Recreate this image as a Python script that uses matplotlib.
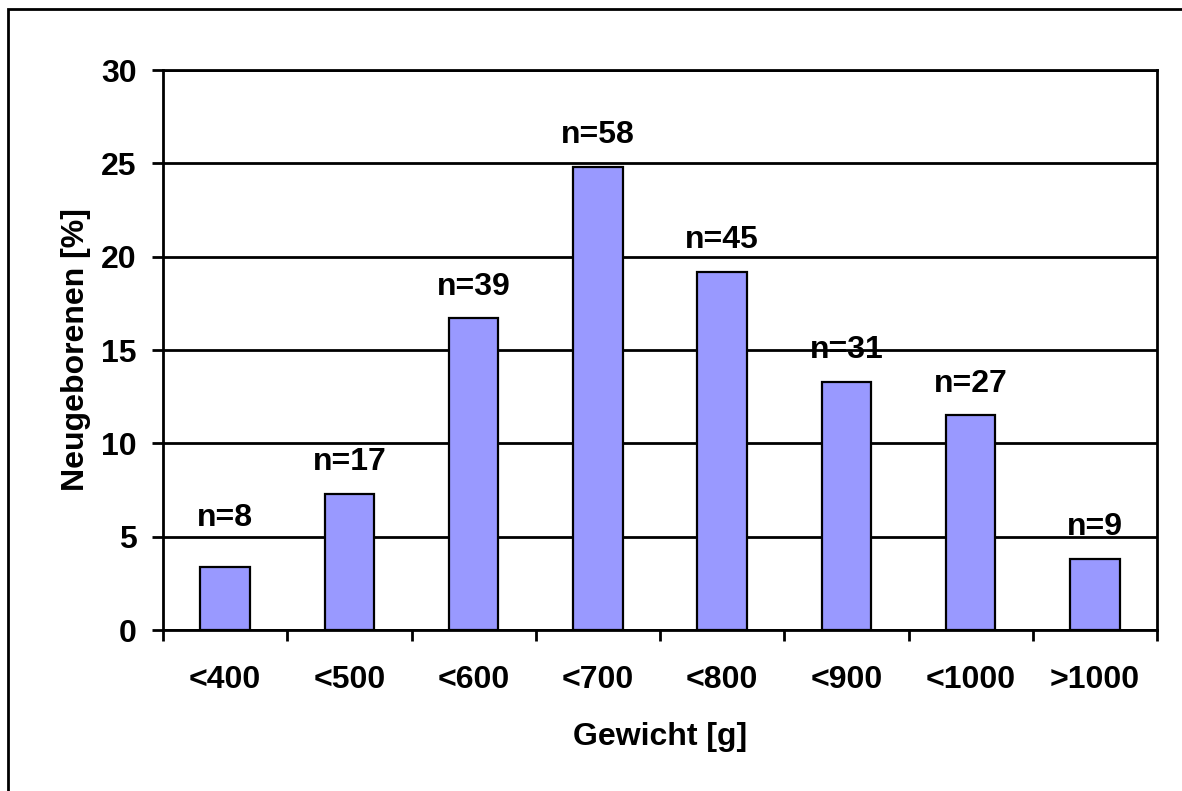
import matplotlib.pyplot as plt
from matplotlib.patches import Rectangle

# Gewichtsklassen und Anteil der Neugeborenen
klassen = ["<400", "<500", "<600", "<700", "<800", "<900", "<1000", ">1000"]
anteil = [3.4, 7.3, 16.7, 24.8, 19.2, 13.3, 11.5, 3.8]
anzahl = [8, 17, 39, 58, 45, 31, 27, 9]

# Abstand der n-Beschriftung über dem Balken (Punkte)
abstand = [29.5, 17, 17, 17, 17, 17, 17, 17]

plt.rcParams['font.family'] = ['Liberation Sans', 'DejaVu Sans']
plt.rcParams['font.weight'] = 'bold'
fs = 23

fig = plt.figure(figsize=(11.82, 7.91), dpi=100, facecolor='white')
ax = fig.add_axes([163/1182, 1 - 630/791, (1157-163)/1182, (630-70)/791])

pos = list(range(len(klassen)))
ax.bar(pos, anteil, width=0.4, color='#9999FF', edgecolor='black', linewidth=1.6, zorder=3)

# n-Beschriftung über den Balken
for x, y, n, d in zip(pos, anteil, anzahl, abstand):
    ax.annotate("n=%d" % n, xy=(x, y), xytext=(0, d), textcoords='offset points',
                ha='center', va='baseline', fontsize=fs, fontweight='bold', zorder=4)

ax.set_xlim(-0.5, len(klassen) - 0.5)
ax.set_ylim(0, 30)
ax.set_yticks(range(0, 31, 5))
ax.yaxis.grid(True, color='black', linewidth=2.0, zorder=0)

# Striche an den Klassengrenzen, Beschriftung in der Mitte
ax.set_xticks([i - 0.5 for i in range(len(klassen) + 1)])
ax.set_xticklabels([])
ax.set_xticks(pos, minor=True)
ax.set_xticklabels(klassen, minor=True)
ax.tick_params(axis='x', which='major', direction='out', length=8, width=2.0)
ax.tick_params(axis='x', which='minor', length=0, pad=25, labelsize=fs)
ax.tick_params(axis='y', direction='out', length=8, width=2.0, pad=11, labelsize=fs)

for s in ax.spines.values():
    s.set_linewidth(2.0)

# Achsentitel
fig.text(660/1182, 1 - 745/791, "Gewicht [g]", ha='center', va='baseline',
         fontsize=fs, fontweight='bold')
fig.text(76/1182, 1 - 350/791, "Neugeborenen [%]", ha='center', va='center',
         rotation=90, fontsize=fs, fontweight='bold')

# Rahmen um das Diagramm
fig.patches.append(Rectangle((8/1182, -0.1), 1.2, 1.1 - 9/791, transform=fig.transFigure,
                             fill=False, edgecolor='black', linewidth=2.0))

fig.savefig("out.png", dpi=100)
